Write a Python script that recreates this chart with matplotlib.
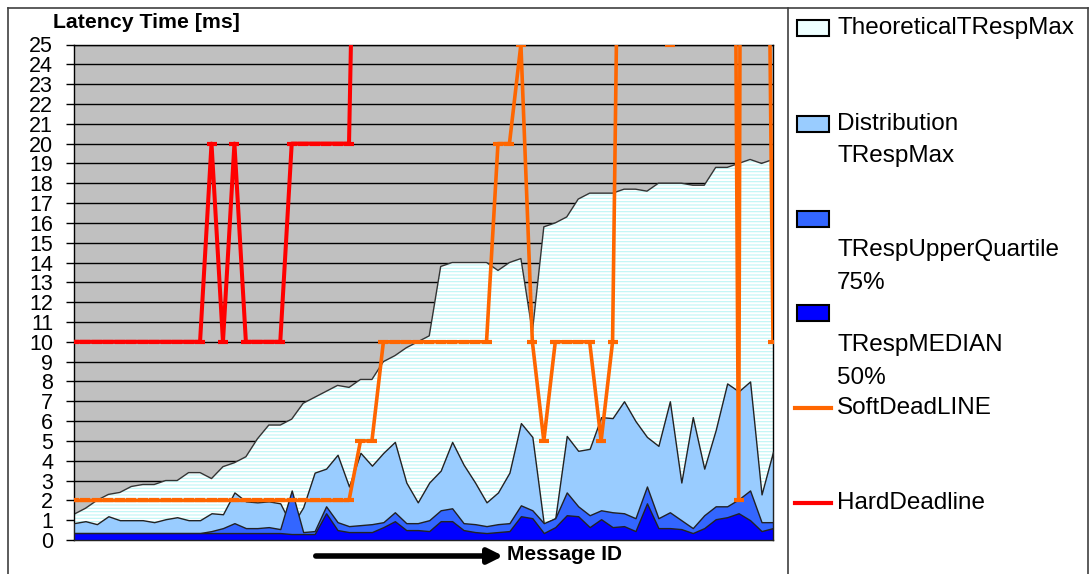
import matplotlib
matplotlib.use('Agg')
import matplotlib.pyplot as plt
import numpy as np
from matplotlib.patches import Rectangle, FancyArrowPatch
from matplotlib.lines import Line2D

plt.rcParams['font.family'] = ['Liberation Sans', 'DejaVu Sans']
plt.rcParams['hatch.linewidth'] = 0.8

# ---- data (one value per message) ----
theo_max = [1.3, 1.6, 2.0, 2.3, 2.4, 2.7, 2.8, 2.8, 3.0, 3.0,
            3.4, 3.4, 3.1, 3.7, 3.9, 4.2, 5.1, 5.8, 5.8, 6.1,
            6.9, 7.2, 7.5, 7.8, 7.7, 8.1, 8.1, 9.0, 9.3, 9.7,
            10.0, 10.3, 13.8, 14.0, 14.0, 14.0, 14.0, 13.6, 14.0, 14.2,
            10.5, 15.8, 16.0, 16.3, 17.2, 17.5, 17.5, 17.5, 17.7, 17.7,
            17.6, 18.0, 18.0, 18.0, 17.9, 17.9, 18.8, 18.8, 19.0, 19.2,
            19.0, 19.2]
dist_max = [0.85, 0.95, 0.8, 1.2, 1.0, 1.0, 1.0, 0.9, 1.05, 1.15,
            1.0, 1.0, 1.35, 1.3, 2.4, 1.95, 1.9, 1.95, 1.85, 0.7,
            1.65, 3.4, 3.6, 4.3, 2.7, 4.4, 3.75, 4.4, 4.95, 2.9,
            1.9, 2.9, 3.5, 4.95, 3.8, 2.9, 1.9, 2.4, 3.4, 5.9,
            5.2, 0.8, 1.1, 5.25, 4.5, 4.6, 6.2, 6.15, 7.0, 6.0,
            5.2, 4.75, 7.0, 2.9, 6.2, 3.6, 5.55, 7.9, 7.5, 8.0,
            2.3, 4.45]
upper_q = [0.35, 0.35, 0.35, 0.35, 0.35, 0.35, 0.35, 0.35, 0.35, 0.35,
           0.35, 0.35, 0.45, 0.6, 0.85, 0.6, 0.6, 0.65, 0.55, 2.5,
           0.4, 0.45, 1.7, 0.9, 0.7, 0.75, 0.8, 0.9, 1.4, 0.85,
           0.85, 1.0, 1.5, 1.6, 0.85, 0.8, 0.7, 0.8, 0.85, 1.75,
           1.5, 0.85, 1.1, 2.4, 1.7, 1.25, 1.5, 1.4, 1.35, 1.1,
           2.7, 1.1, 1.4, 1.0, 0.6, 1.25, 1.7, 1.7, 2.05, 2.5,
           0.9, 0.9]
median = [0.35, 0.35, 0.35, 0.35, 0.35, 0.35, 0.35, 0.35, 0.35, 0.35,
          0.35, 0.35, 0.35, 0.35, 0.35, 0.35, 0.35, 0.35, 0.35, 0.3,
          0.3, 0.3, 1.35, 0.5, 0.4, 0.4, 0.4, 0.65, 0.95, 0.5,
          0.5, 0.45, 0.95, 0.95, 0.5, 0.4, 0.35, 0.4, 0.45, 1.2,
          1.1, 0.35, 0.65, 1.25, 1.2, 0.65, 1.05, 0.65, 0.7, 0.45,
          1.85, 0.6, 0.6, 0.55, 0.35, 0.6, 1.05, 1.15, 1.35, 1.0,
          0.45, 0.6]
# deadlines (values above 25 run off the top of the chart)
soft_dl = [2, 2, 2, 2, 2, 2, 2, 2, 2, 2,
           2, 2, 2, 2, 2, 2, 2, 2, 2, 2,
           2, 2, 2, 2, 2, 5, 5, 10, 10, 10,
           10, 10, 10, 10, 10, 10, 10, 20, 20, 25,
           10, 5, 10, 10, 10, 10, 5, 10, 55, 55,
           55, 55, 25, 100, 100, 100, 100, 100, 2, 200,
           67, 10]
hard_dl = [10, 10, 10, 10, 10, 10, 10, 10, 10, 10,
           10, 10, 20, 10, 20, 10, 10, 10, 10, 20,
           20, 20, 20, 20, 20, 50]

W, H = 1089, 574
fig = plt.figure(figsize=(W / 100, H / 100), dpi=100)


def fx(px):
    return px / W


def fy(py):
    return 1 - py / H


ax = fig.add_axes([fx(74), fy(540), fx(773) - fx(74), fy(44.5) - fy(540)])
ax.set_facecolor('#C0C0C0')
x = np.arange(len(theo_max))

# areas (drawn one over the other, not stacked)
ax.fill_between(x, 0, theo_max, facecolor='white', edgecolor='#BDF5F5',
                hatch='-----', linewidth=0, zorder=2)
ax.plot(x, theo_max, color='#333333', lw=1, zorder=2.1)
ax.fill_between(x, 0, dist_max, facecolor='#99CCFF', edgecolor='#222222',
                linewidth=1, zorder=3)
ax.fill_between(x, 0, upper_q, facecolor='#3366FF', edgecolor='#222222',
                linewidth=1, zorder=4)
ax.fill_between(x, 0, median, facecolor='#0000FF', edgecolor='#222222',
                linewidth=1, zorder=5)

# deadline lines
ax.plot(x[:len(soft_dl)], soft_dl, color='#FF6600', lw=2.6, marker='_',
        ms=7, mew=3, zorder=6)
ax.plot(x[:len(hard_dl)], hard_dl, color='#FF0000', lw=2.9, marker='_',
        ms=7, mew=3, zorder=7)

ax.set_xlim(0, len(x) - 1)
ax.set_ylim(0, 25)
ax.set_yticks(range(0, 26))
ax.set_xticks([])
ax.yaxis.grid(True, color='black', lw=1)
ax.set_axisbelow(True)
ax.tick_params(axis='y', length=6, width=1, pad=9, labelsize=15.5)
for s in ax.spines.values():
    s.set_color('black')
    s.set_linewidth(1)

# titles / axis captions
fig.text(fx(53), fy(22), 'Latency Time [ms]', fontsize=15.3, fontweight='bold',
         va='center', ha='left')
fig.add_artist(FancyArrowPatch((fx(313), fy(556)), (fx(506), fy(556)),
                               transform=fig.transFigure, arrowstyle='-|>',
                               mutation_scale=22, lw=4, color='black'))
fig.text(fx(507), fy(555), 'Message ID', fontsize=15, fontweight='bold',
         va='center', ha='left')

# frame lines
for (x0, y0, x1, y1) in [(8, 8, 1088, 8), (8, 8, 8, 574), (788, 8, 788, 574),
                         (1088, 8, 1088, 574)]:
    fig.add_artist(Line2D([fx(x0), fx(x1)], [fy(y0), fy(y1)],
                          transform=fig.transFigure, color='#404040', lw=1.2))

# legend
patch_entries = [(28, '#EEFFFF'), (124, '#99CCFF'),
                 (219, '#3366FF'), (313, '#0000FF')]
for yy, fc in patch_entries:
    fig.add_artist(Rectangle((fx(797), fy(yy + 8)), fx(829) - fx(797), 16 / H,
                             transform=fig.transFigure, facecolor=fc,
                             edgecolor='black', lw=1.5))
for yy, col in [(408, '#FF6600'), (503, '#FF0000')]:
    fig.add_artist(Line2D([fx(795), fx(831)], [fy(yy), fy(yy)],
                          transform=fig.transFigure, color=col, lw=3))
legend_lines = [(28, 'TheoreticalTRespMax'), (124, 'Distribution'),
                (156, 'TRespMax'), (250, 'TRespUpperQuartile'), (283, '75%'),
                (345, 'TRespMEDIAN'), (378, '50%'), (408, 'SoftDeadLINE'),
                (503, 'HardDeadline')]
for yy, txt in legend_lines:
    fig.text(fx(837), fy(yy), txt, fontsize=17.5, va='center', ha='left')

fig.savefig('out.png', dpi=100)
